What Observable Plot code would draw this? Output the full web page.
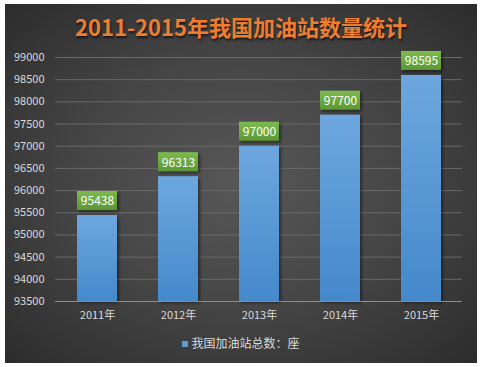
<!DOCTYPE html>
<html><head><meta charset="utf-8">
<script src="https://cdn.jsdelivr.net/npm/d3@7"></script>
<script src="https://cdn.jsdelivr.net/npm/@observablehq/plot@0.6"></script>
<style>
html,body{margin:0;padding:0;background:#fff;}
#wrap{position:absolute;left:5px;top:4px;width:472px;height:359px;
background:radial-gradient(ellipse at 50% 50%, #575757 0%, #474747 45%, #2c2c2c 100%);
font-family:"Noto Sans CJK SC","Noto Sans",sans-serif;overflow:hidden;}
#title{position:absolute;left:0;top:8px;width:472px;text-align:center;color:#ED7D31;font-weight:bold;font-size:22px;line-height:28px;text-shadow:1px 2px 2px rgba(0,0,0,0.6);}
#chart{position:absolute;left:0;top:40px;}
#legend{position:absolute;left:0;top:330px;width:472px;text-align:center;color:#d9d9d9;font-size:12px;line-height:18px;}
#legend span.sw{display:inline-block;width:6px;height:6px;background:#5b9bd5;margin-right:3px;vertical-align:1px;}
</style></head><body>
<div id="wrap">
<div id="title">2011-2015年我国加油站数量统计</div>
<div id="chart"></div>
<div id="legend"><span class="sw"></span>我国加油站总数：座</div>
</div>
<script>
const years = ["2011年","2012年","2013年","2014年","2015年"];
const counts = [95438, 96313, 97000, 97700, 98595];
const yTicks = [93500,94000,94500,95000,95500,96000,96500,97000,97500,98000,98500,99000];
const seriesName = "我国加油站总数：座";

const data = years.map((y,i)=>({year:y, value:counts[i]}));

const plot = Plot.plot({
  width: 472, height: 290,
  marginLeft: 50, marginRight: 15, marginTop: 13, marginBottom: 33,
  style: {background:"transparent", color:"#d9d9d9", fontFamily:"'Noto Sans CJK SC','Noto Sans',sans-serif", fontSize:"11px", overflow:"visible"},
  x: {domain: years, paddingInner: 0.51, paddingOuter: 0.255, label: null, tickSize: 0, tickPadding: 10},
  y: {domain: [93500, 99000], ticks: yTicks, label: null, tickSize: 0, tickPadding: 11, tickFormat: d=>String(d)},
  marks: [
    () => {
      const defs = d3.create("svg:defs");
      const g1 = defs.append("linearGradient").attr("id","barg").attr("x1",0).attr("x2",0).attr("y1",0).attr("y2",1);
      g1.append("stop").attr("offset","0%").attr("stop-color","#6da7de");
      g1.append("stop").attr("offset","100%").attr("stop-color","#4589cb");
      const g2 = defs.append("linearGradient").attr("id","lblg").attr("x1",0).attr("x2",0).attr("y1",0).attr("y2",1);
      g2.append("stop").attr("offset","0%").attr("stop-color","#7dbb4f");
      g2.append("stop").attr("offset","100%").attr("stop-color","#5c9734");
      const f = defs.append("filter").attr("id","sh").attr("x","-20%").attr("y","-20%").attr("width","150%").attr("height","150%");
      f.append("feDropShadow").attr("dx",2).attr("dy",2).attr("stdDeviation",1.5).attr("flood-color","#000").attr("flood-opacity",0.45);
      return defs.node();
    },
    Plot.gridY(yTicks, {stroke:"#6a6a6a", strokeOpacity:1, strokeWidth:1}),
    Plot.barY(data, {x:"year", y1: 93500, y2:"value", fill:"url(#barg)"}),
    Plot.ruleY([93500], {stroke:"#8c8c8c", strokeWidth:1}),
    Plot.text(data, {
      x:"year", y:"value", text: d=>String(d.value), dy:-14, fill:"#ffffff", fontSize:12,
      render: (index, scales, values, dims, context, next) => {
        const g = d3.create("svg:g");
        const half = scales.x.bandwidth ? scales.x.bandwidth() / 2 : 0;
        for (const i of index) {
          const cx = values.x[i] + half, cy = values.y[i];
          g.append("rect").attr("x", cx - 20).attr("y", cy - 24).attr("width", 40).attr("height", 19)
            .attr("fill","url(#lblg)").attr("filter","url(#sh)");
        }
        g.append(() => next(index, scales, values, dims, context));
        return g.node();
      }
    })
  ]
});
plot.querySelectorAll("g[aria-label='bar'] rect").forEach(r=>r.setAttribute("filter","url(#sh)"));
document.getElementById("chart").appendChild(plot);
</script>
</body></html>
